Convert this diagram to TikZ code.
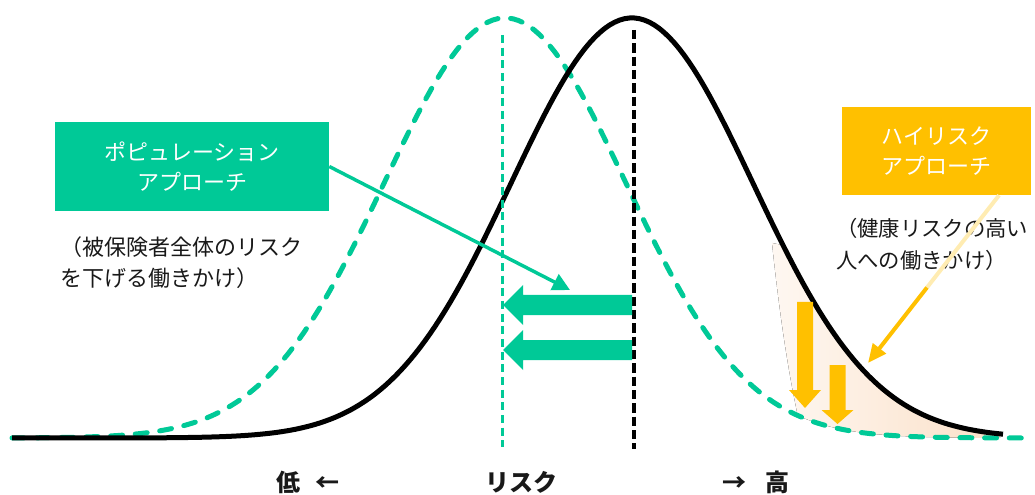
\documentclass[tikz,border=0pt]{standalone}
\usepackage{fontspec}
\newfontfamily\jp{Noto Sans CJK JP}
\usetikzlibrary{arrows.meta,calc,positioning}
\definecolor{popgreen}{RGB}{0,201,151}
\definecolor{hrgold}{RGB}{255,192,0}
\definecolor{peach}{RGB}{251,224,200}
\newcommand{\bellcurve}[1]{438-420*exp(-0.5*pow((\x-#1)/121,2))}
\newcommand{\blockarrow}[1]{%
  \fill[popgreen] (632,#1-10) -- (523,#1-10) -- (523,#1-20) -- (503,#1)
    -- (523,#1+20) -- (523,#1+10) -- (632,#1+10) -- cycle;
}
\newcommand{\droparrow}[4]{%
  \fill[hrgold] (#1-8,#2) -- (#1+8,#2) -- (#1+8,#3) -- (#1+16,#3) -- (#1,#4)
    -- (#1-16,#3) -- (#1-8,#3) -- cycle;
}
\tikzset{
  popbox/.style={fill=popgreen,text=white,align=center,inner sep=0pt,
    minimum width=205.5pt,minimum height=66.75pt},
  hrbox/.style={fill=hrgold,text=white,align=center,inner sep=0pt,
    minimum width=141.75pt,minimum height=66pt},
  note/.style={text=black!90,align=left,inner sep=0pt,anchor=west},
  axislabel/.style={text=black!90,inner sep=0pt,font=\jp\fontsize{18}{20}\selectfont\bfseries}
}
\begin{document}
\begin{tikzpicture}[x=0.75pt,y=-0.75pt,every node/.style={font=\jp\fontsize{16.5}{23}\selectfont}]
  \useasboundingbox (0,0) rectangle (1035,495);
  % tail between the two curves
  \fill[left color=peach!25,right color=peach]
    (772,243) .. controls (778,300) and (786,360) .. (797,412)
    -- plot[domain=797:1000,samples=40] (\x,{\bellcurve{505}})
    -- plot[domain=1000:783,samples=40] (\x,{\bellcurve{632}}) -- cycle;
  \draw[popgreen,line width=3.75pt,line cap=round,dash pattern=on 9pt off 9.5pt]
    plot[domain=12:1030,samples=200] (\x,{\bellcurve{505}});
  \draw[line width=3.75pt,line join=round]
    plot[domain=12:1003,samples=200] (\x,{\bellcurve{632}});
  \draw[popgreen,line width=2.25pt,dash pattern=on 6pt off 3.5pt] (502,35) -- (502,447);
  \draw[line width=2.6pt,dash pattern=on 7pt off 3pt] (634,30) -- (634,449);
  \foreach \y in {305,350} {\blockarrow{\y}}
  \droparrow{805}{302}{390}{408}
  \droparrow{837.5}{365}{410}{424}

  \node[popbox] (popbox) at (192,166.5) {ポピュレーション\\アプローチ};
  \node[note] (popnote) at (60,262.5) {（被保険者全体のリスク\\を下げる働きかけ）};
  \node[hrbox] (hrbox) at (936.5,151) {ハイリスク\\アプローチ};
  \node[note,font=\jp\fontsize{16}{24}\selectfont] (hrnote) at (836,244) {（健康リスクの高い\\人への働きかけ）};
  \node[axislabel] (low) at (308,482) {低\hspace{12pt}←};
  \node[axislabel] (risk) at (521,482) {リスク};
  \node[axislabel] (high) at (756,482) {→\hspace{14pt}高};

  \coordinate (poptip) at (570,290);
  \draw[popgreen,line width=2.6pt,-{Triangle[length=13pt,width=13pt]}] (popbox.east) -- (poptip);
  \coordinate (hrstart) at ($(hrbox.south west)!0.83!(hrbox.south east)$);
  \coordinate (hrtip) at (868,363);
  \coordinate (hrfade) at ($(hrstart)!0.55!(hrtip)$);
  \draw[hrgold!30,line width=3pt] (hrstart) -- (hrfade);
  \draw[hrgold,line width=3pt,-{Triangle[length=14pt,width=12pt]}] (hrfade) -- (hrtip);
\end{tikzpicture}
\end{document}
